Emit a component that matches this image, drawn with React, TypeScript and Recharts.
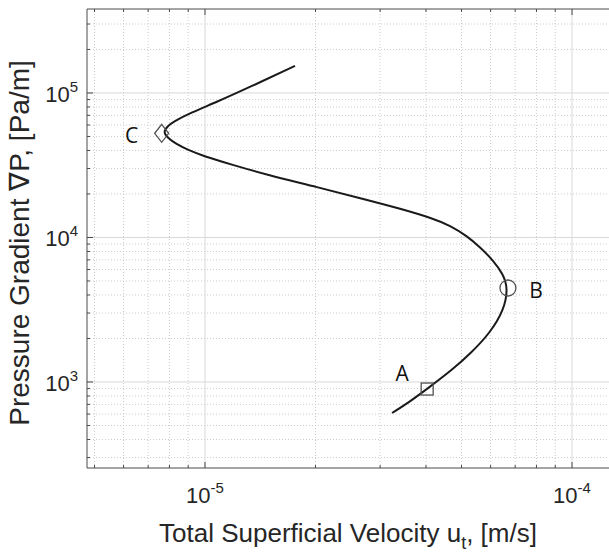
import { ComposedChart, XAxis, YAxis, Line, Scatter, ReferenceLine, LabelList } from "recharts";

// curve, from the low end (bottom) to the top end
const velocity = [
  3.233e-5, 3.62e-5, 4.026e-5, 4.711e-5, 5.306e-5, 5.977e-5, 6.527e-5, 6.692e-5,
  6.486e-5, 6.091e-5, 5.615e-5, 5.175e-5, 4.652e-5, 4.181e-5, 3.399e-5, 2.763e-5,
  2.019e-5, 1.476e-5, 1.192e-5, 9.875e-6, 8.989e-6, 8.337e-6, 7.928e-6, 7.683e-6,
  7.928e-6, 8.181e-6, 9.103e-6, 1.078e-5, 1.326e-5, 1.759e-5
];
const gradient = [
  610, 733, 895, 1211, 1587, 2183, 3149, 4473, 5589, 6965, 8566, 10226, 12088, 13540,
  15849, 18180, 22360, 27070, 31750, 36650, 40320, 44370, 48820, 53720, 59100, 63000,
  72700, 86650, 110000, 153800
];

// marked points A, B, C
const markerNames = ["A", "B", "C"];
const markerVelocity = [4.03e-5, 6.69e-5, 7.62e-6];
const markerGradient = [894, 4470, 52600];

const xMajor = [1e-5, 1e-4];
const xMinor = [
  5e-6, 6e-6, 7e-6, 8e-6, 9e-6, 2e-5, 3e-5, 4e-5, 5e-5, 6e-5, 7e-5, 8e-5, 9e-5
];
const yMajor = [1e3, 1e4, 1e5];
const yMinor = [
  300, 400, 500, 600, 700, 800, 900, 2000, 3000, 4000, 5000, 6000, 7000, 8000, 9000,
  20000, 30000, 40000, 50000, 60000, 70000, 80000, 90000, 200000, 300000
];

const xDomain = [4.77e-6, 1.261e-4];
const yDomain = [254, 381000];

const curve = velocity.map((u, i) => ({ u, dp: gradient[i] }));
const markers = markerNames.map((name, i) => ({ name, u: markerVelocity[i], dp: markerGradient[i] }));

const W = 609;
const H = 553;
const TOP = 9;
const LEFT = 87;
const BOTTOM = 468;
const AXIS = "#4a4a4a";
const TEXT = "#262626";
const FONT = "'Liberation Sans', Arial, sans-serif";

const isMajor = (v: number) => Math.abs(Math.log10(v) - Math.round(Math.log10(v))) < 1e-6;
const expo = (v: number) => Math.round(Math.log10(v));

function XTick(props: any) {
  const { x, payload } = props;
  const v = payload.value;
  const major = isMajor(v);
  const len = major ? 6 : 3;
  return (
    <g>
      <line x1={x} x2={x} y1={BOTTOM} y2={BOTTOM - len} stroke={AXIS} />
      <line x1={x} x2={x} y1={TOP} y2={TOP + len} stroke={AXIS} />
      {major && (
        <text x={x} y={503} textAnchor="middle" fontSize={22} fill={TEXT} fontFamily={FONT}>
          10<tspan dy={-10} fontSize={15}>{expo(v)}</tspan>
        </text>
      )}
    </g>
  );
}

function YTick(props: any) {
  const { y, payload } = props;
  const v = payload.value;
  const major = isMajor(v);
  return (
    <g>
      <line x1={LEFT} x2={LEFT + (major ? 6 : 3)} y1={y} y2={y} stroke={AXIS} />
      {major && (
        <text x={78} y={y + 9} textAnchor="end" fontSize={22} fill={TEXT} fontFamily={FONT}>
          10<tspan dy={-10} fontSize={15}>{expo(v)}</tspan>
        </text>
      )}
    </g>
  );
}

function XTitle() {
  return (
    <text x={(LEFT + W) / 2} y={542} textAnchor="middle" fontSize={26} fill={TEXT} fontFamily={FONT}>
      Total Superficial Velocity u<tspan dy={7} fontSize={18}>t</tspan>
      <tspan dy={-7}>, [m/s]</tspan>
    </text>
  );
}

function YTitle() {
  const cx = 29;
  const cy = 243;
  return (
    <text
      x={cx}
      y={cy}
      transform={`rotate(-90, ${cx}, ${cy})`}
      textAnchor="middle"
      fontSize={28}
      fill={TEXT}
      fontFamily={FONT}
    >
      Pressure Gradient ∇P, [Pa/m]
    </text>
  );
}

function MarkerShape(props: any) {
  const { cx, cy, payload } = props;
  const stroke = "#505050";
  if (payload.name === "A") {
    return <rect x={cx - 6} y={cy - 6} width={12} height={12} fill="none" stroke={stroke} strokeWidth={1.3} />;
  }
  if (payload.name === "B") {
    return <circle cx={cx} cy={cy} r={8} fill="none" stroke={stroke} strokeWidth={1.3} />;
  }
  return (
    <path
      d={`M${cx} ${cy - 9} L${cx + 7} ${cy} L${cx} ${cy + 9} L${cx - 7} ${cy} Z`}
      fill="none"
      stroke={stroke}
      strokeWidth={1.3}
    />
  );
}

const labelOffset: Record<string, [number, number]> = {
  A: [-25, -16],
  B: [28, 2],
  C: [-30, 2]
};

function MarkerLabel(props: any) {
  const { x, y, width, height, value } = props;
  const cx = x + (width || 0) / 2;
  const cy = y + (height || 0) / 2;
  const [dx, dy] = labelOffset[value] || [0, 0];
  return (
    <text
      x={cx + dx}
      y={cy + dy + 8}
      textAnchor="middle"
      fontSize={21}
      fill="#111"
      fontFamily="'Open Sans', sans-serif"
    >
      {value}
    </text>
  );
}

export default function App() {
  const xTicks = [...xMinor, ...xMajor].sort((a, b) => a - b);
  const yTicks = [...yMinor, ...yMajor].sort((a, b) => a - b);

  return (
    <div style={{ position: "absolute", left: 0, top: 0, background: "#fff" }}>
      <ComposedChart width={W} height={H} margin={{ top: TOP, right: 0, bottom: 0, left: 0 }}>
        <XAxis
          dataKey="u"
          type="number"
          scale="log"
          domain={xDomain}
          allowDataOverflow
          ticks={xTicks}
          interval={0}
          tick={<XTick />}
          tickLine={false}
          axisLine={{ stroke: AXIS }}
          height={H - BOTTOM}
          label={<XTitle />}
        />
        <YAxis
          dataKey="dp"
          type="number"
          scale="log"
          domain={yDomain}
          allowDataOverflow
          ticks={yTicks}
          interval={0}
          tick={<YTick />}
          tickLine={false}
          axisLine={{ stroke: AXIS }}
          width={LEFT}
          label={<YTitle />}
        />

        {yMinor.map((v) => (
          <ReferenceLine key={`ym${v}`} y={v} stroke="#cccccc" strokeDasharray="1 2" />
        ))}
        {xMinor.map((v) => (
          <ReferenceLine key={`xm${v}`} x={v} stroke="#cccccc" strokeDasharray="1 2" />
        ))}
        {yMajor.map((v) => (
          <ReferenceLine key={`yM${v}`} y={v} stroke="#d9d9d9" />
        ))}
        {xMajor.map((v) => (
          <ReferenceLine key={`xM${v}`} x={v} stroke="#d9d9d9" />
        ))}
        <ReferenceLine y={yDomain[1]} stroke={AXIS} />

        <Line
          data={curve}
          dataKey="dp"
          type="basis"
          stroke="#1a1a1a"
          strokeWidth={2}
          dot={false}
          activeDot={false}
          isAnimationActive={false}
        />
        <Scatter data={markers} dataKey="dp" shape={<MarkerShape />} isAnimationActive={false}>
          <LabelList dataKey="name" content={<MarkerLabel />} />
        </Scatter>
      </ComposedChart>
    </div>
  );
}
